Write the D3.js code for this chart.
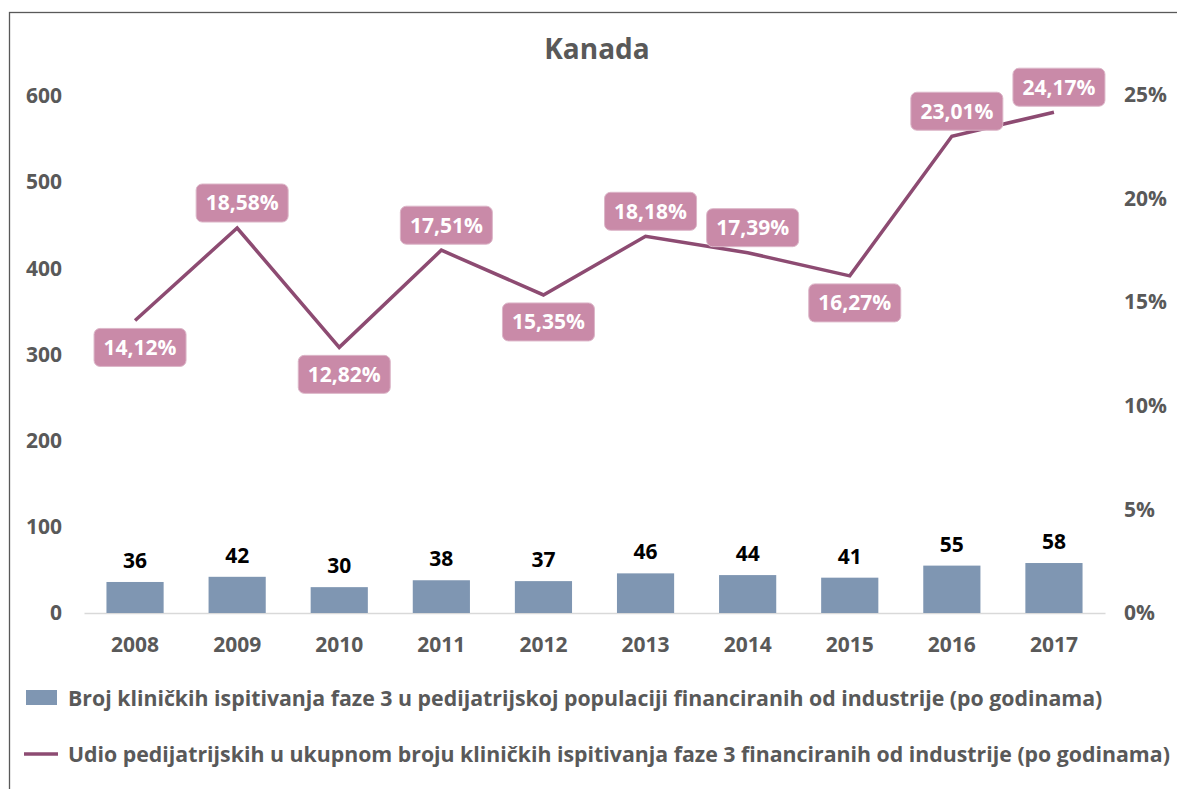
<!DOCTYPE html>
<html>
<head>
<meta charset="utf-8">
<script src="https://cdn.jsdelivr.net/npm/d3@7"></script>
<style>
  body { margin: 0; background: #fff; }
  text { font-family: "Open Sans", Lato, sans-serif; font-weight: bold; }
</style>
</head>
<body>
<div id="chart"></div>
<script>
// data
var years = ["2008", "2009", "2010", "2011", "2012", "2013", "2014", "2015", "2016", "2017"];
var trials = [36, 42, 30, 38, 37, 46, 44, 41, 55, 58];
var share = [14.12, 18.58, 12.82, 17.51, 15.35, 18.18, 17.39, 16.27, 23.01, 24.17];
var labelSide = ["below", "above", "below", "above", "below", "above", "above", "below", "above", "above"];
var leftTicks = [0, 100, 200, 300, 400, 500, 600];
var rightTicks = [0, 5, 10, 15, 20, 25];
var legendLabels = [
    "Broj kliničkih ispitivanja faze 3 u pedijatrijskoj populaciji financiranih od industrije (po godinama)",
    "Udio pedijatrijskih u ukupnom broju kliničkih ispitivanja faze 3 financiranih od industrije (po godinama)"
];

var W = 1177, H = 789;
var barColor = "#7f96b2", lineColor = "#8d4b72", boxColor = "#c98aa8", axisColor = "#595959";
var fs = 21;

var svg = d3.select("#chart").append("svg")
    .attr("width", W)
    .attr("height", H);

// frame
svg.append("rect")
    .attr("x", 9.5).attr("y", 12.5)
    .attr("width", 1200).attr("height", 800)
    .attr("fill", "none")
    .attr("stroke", axisColor)
    .attr("stroke-width", 1.3);

// title
svg.append("text")
    .attr("x", 597).attr("y", 59)
    .attr("text-anchor", "middle")
    .attr("font-size", 28)
    .attr("fill", axisColor)
    .text("Kanada");

// scales
var x = d3.scaleBand()
    .domain(years)
    .range([84, 1105])
    .paddingInner(0.44)
    .paddingOuter(0.22);

var y = d3.scaleLinear().domain([0, 600]).range([613, 96]);
var y2 = d3.scaleLinear().domain([0, 25]).range([613, 95]);

// left axis
var left = svg.append("g")
    .attr("transform", "translate(62,0)")
    .call(d3.axisLeft(y).tickValues(leftTicks).tickSize(0).tickPadding(0));
left.select(".domain").remove();
left.selectAll("text")
    .attr("font-size", fs)
    .attr("fill", axisColor)
    .attr("font-family", null);

// right axis
var right = svg.append("g")
    .attr("transform", "translate(1124,0)")
    .call(d3.axisRight(y2).tickValues(rightTicks).tickSize(0).tickPadding(0)
        .tickFormat(function (d) { return d + "%" }));
right.select(".domain").remove();
right.selectAll("text")
    .attr("font-size", fs)
    .attr("fill", axisColor)
    .attr("font-family", null);

// bottom axis
var bottom = svg.append("g")
    .attr("transform", "translate(0,613)")
    .call(d3.axisBottom(x).tickSize(0).tickPadding(24));
bottom.select(".domain")
    .attr("stroke", "#d9d9d9")
    .attr("stroke-width", 1.3);
bottom.selectAll("text")
    .attr("font-size", fs)
    .attr("fill", axisColor)
    .attr("font-family", null);

// bars
svg.selectAll(".bar")
    .data(trials)
    .enter().append("rect")
    .attr("class", "bar")
    .attr("x", function (d, i) { return x(years[i]) })
    .attr("width", x.bandwidth())
    .attr("y", function (d) { return y(d) })
    .attr("height", function (d) { return y(0) - y(d) })
    .attr("fill", barColor);

svg.selectAll(".barlabel")
    .data(trials)
    .enter().append("text")
    .attr("class", "barlabel")
    .attr("x", function (d, i) { return x(years[i]) + x.bandwidth() / 2 })
    .attr("y", function (d) { return y(d) - 14 })
    .attr("text-anchor", "middle")
    .attr("font-size", fs)
    .attr("fill", "#000")
    .text(function (d) { return d });

// line
var cx = function (i) { return x(years[i]) + x.bandwidth() / 2 };
svg.append("path")
    .datum(share)
    .attr("fill", "none")
    .attr("stroke", lineColor)
    .attr("stroke-width", 3.5)
    .attr("d", d3.line()
        .x(function (d, i) { return cx(i) })
        .y(function (d) { return y2(d) }));

// line labels (callout boxes)
var fmt = function (d) { return d.toFixed(2).replace(".", ",") + "%" };
var lab = svg.selectAll(".lab")
    .data(share)
    .enter().append("g")
    .attr("class", "lab")
    .attr("transform", function (d, i) {
        var off = labelSide[i] == "above" ? -25 : 27;
        return "translate(" + (cx(i) + 5) + "," + (y2(d) + off) + ")";
    });
lab.append("rect")
    .attr("x", -46).attr("y", -19)
    .attr("width", 92).attr("height", 38)
    .attr("rx", 6)
    .attr("fill", boxColor)
    .attr("stroke", "#dcb6c8")
    .attr("stroke-width", 1);
lab.append("text")
    .attr("text-anchor", "middle")
    .attr("dy", "0.35em")
    .attr("font-size", fs)
    .attr("fill", "#fff")
    .text(fmt);

// legend
var lg = svg.append("g");
lg.append("rect")
    .attr("x", 26).attr("y", 690)
    .attr("width", 31).attr("height", 15)
    .attr("fill", barColor);
lg.append("line")
    .attr("x1", 24).attr("x2", 58)
    .attr("y1", 754).attr("y2", 754)
    .attr("stroke", lineColor)
    .attr("stroke-width", 3.5);
lg.selectAll(".legtext")
    .data(legendLabels)
    .enter().append("text")
    .attr("x", 68)
    .attr("y", function (d, i) { return 706 + i * 56 })
    .attr("font-size", 21.3)
    .attr("fill", axisColor)
    .text(function (d) { return d });
</script>
</body>
</html>
